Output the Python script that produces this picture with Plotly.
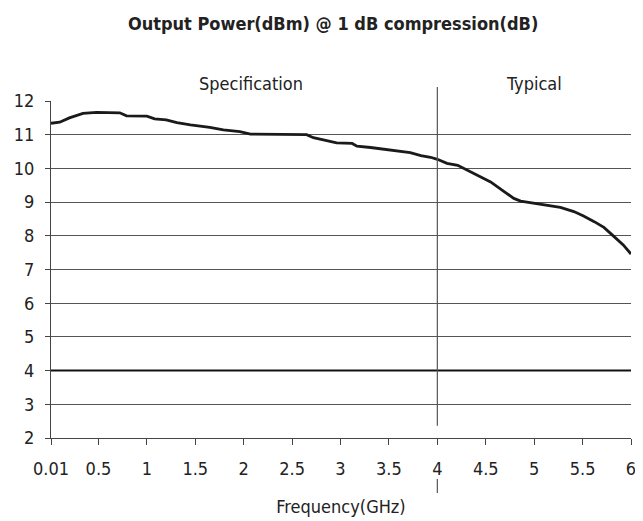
import plotly.graph_objects as go

# ---- data ----
freq_ghz = [0.01, 0.1, 0.2, 0.34, 0.48, 0.72, 0.79, 1.0, 1.08, 1.2, 1.31, 1.45,
            1.65, 1.79, 1.96, 2.07, 2.38, 2.65, 2.72, 2.86, 2.96, 3.12, 3.17,
            3.31, 3.48, 3.72, 3.83, 3.93, 4.0, 4.1, 4.21, 4.31, 4.41, 4.55,
            4.69, 4.79, 4.86, 5.0, 5.14, 5.27, 5.41, 5.51, 5.62, 5.72, 5.82,
            5.92, 6.0]
p1db_dbm = [11.34, 11.37, 11.50, 11.63, 11.66, 11.65, 11.56, 11.55, 11.47, 11.44,
            11.36, 11.29, 11.22, 11.14, 11.09, 11.02, 11.01, 11.0, 10.91, 10.82,
            10.76, 10.74, 10.66, 10.62, 10.55, 10.47, 10.38, 10.33, 10.27, 10.15,
            10.09, 9.95, 9.82, 9.60, 9.31, 9.11, 9.03, 8.96, 8.91, 8.84, 8.72,
            8.59, 8.42, 8.25, 7.99, 7.73, 7.46]
spec_x = [0.01, 6.0]
spec_y = [4, 4]
x_tickvals = [0.01, 0.5, 1, 1.5, 2, 2.5, 3, 3.5, 4, 4.5, 5, 5.5, 6]
x_ticktext = ["0.01", "0.5", "1", "1.5", "2", "2.5", "3", "3.5", "4", "4.5", "5", "5.5", "6"]
y_tickvals = [2, 3, 4, 5, 6, 7, 8, 9, 10, 11, 12]
split_freq = 4
region_labels = ["Specification", "Typical"]
region_label_x = [2.08, 5]

FONT = "Liberation Sans Narrow, DejaVu Sans Condensed, Roboto, Arial, sans-serif"

fig = go.Figure()
fig.add_trace(go.Scatter(x=spec_x, y=spec_y, mode="lines",
                         line=dict(color="#111111", width=2), showlegend=False))
fig.add_trace(go.Scatter(x=freq_ghz, y=p1db_dbm, mode="lines",
                         line=dict(color="#1a1a1a", width=2.8), showlegend=False))

# divider between specification and typical
fig.add_shape(type="line", xref="x", yref="paper", x0=split_freq, x1=split_freq,
              y0=0.036, y1=1.0415, line=dict(color="#555555", width=1.2))
fig.add_shape(type="line", xref="x", yref="paper", x0=split_freq, x1=split_freq,
              y0=-0.122, y1=-0.163, line=dict(color="#555555", width=1.2))

for txt, xv in zip(region_labels, region_label_x):
    fig.add_annotation(x=xv, y=1.053, xref="x", yref="paper", text=txt,
                       showarrow=False, yanchor="middle",
                       font=dict(family=FONT, size=18, color="#222222"))

# the page body adds an 8px offset, so the figure is 8px smaller than the window
fig.update_layout(
    width=635, height=513,
    margin=dict(l=43, r=12, t=93, b=83),
    paper_bgcolor="white", plot_bgcolor="white",
    title=dict(text="<b>Output Power(dBm) @ 1 dB compression(dB)</b>",
               x=0.512, xanchor="center", y=0.970, yanchor="middle",
               font=dict(family=FONT, size=18, color="#222222")),
    font=dict(family=FONT, size=18, color="#222222"),
    xaxis=dict(range=[0.01, 6], tickvals=x_tickvals, ticktext=x_ticktext,
               showgrid=False, zeroline=False, showline=True, automargin=False,
               linecolor="#444444", linewidth=1.2, ticks="outside",
               ticklen=6, tickcolor="#444444", ticklabelstandoff=8,
               title=dict(text="Frequency(GHz)", standoff=22,
                          font=dict(family=FONT, size=18))),
    yaxis=dict(range=[2, 12], tickvals=y_tickvals, showgrid=True, automargin=False,
               gridcolor="#555555", gridwidth=1, zeroline=False,
               showline=True, linecolor="#444444", linewidth=1.2,
               ticks="outside", ticklen=5, tickcolor="#444444",
               ticklabelstandoff=7),
)

fig.write_html("out.html")
